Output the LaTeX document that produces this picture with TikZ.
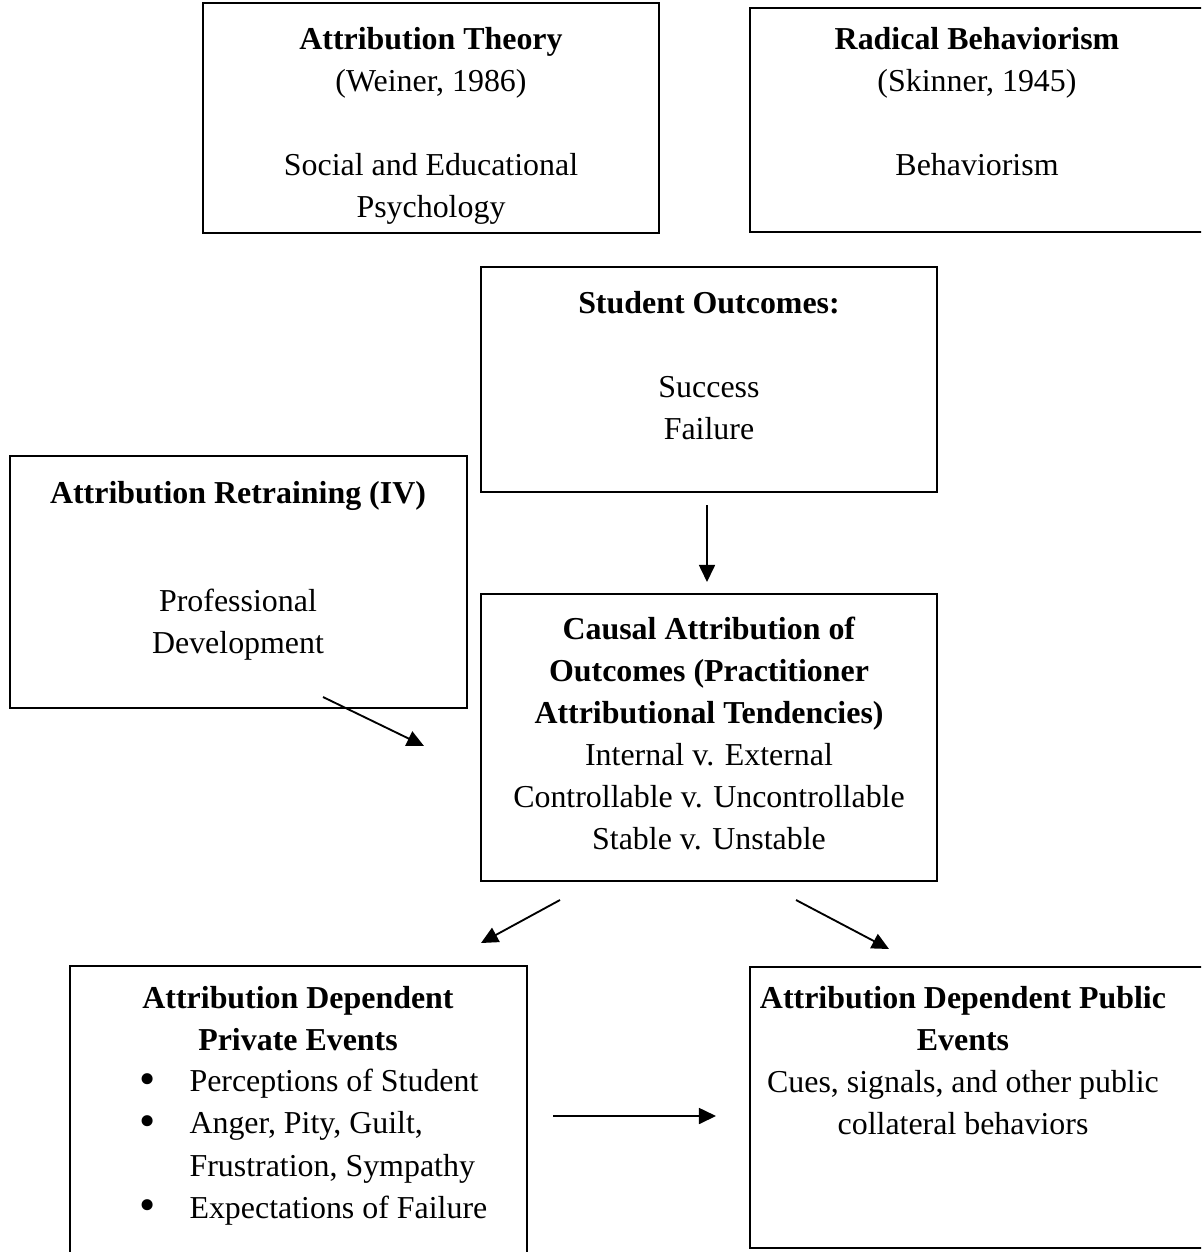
\documentclass[tikz,border=0pt]{standalone}
\usepackage{fontspec}
\usepackage{graphicx}
\setmainfont{Liberation Serif}
\usetikzlibrary{positioning, arrows.meta, fit}
\newcommand{\bigdot}{\raisebox{-0.15ex}{\scalebox{1.45}{•}}}
\tikzset{
  box/.style={draw, line width=0.75pt, inner sep=0pt},
  txt/.style={align=center, inner sep=0pt, anchor=north, font=\fontsize{12}{15.8}\selectfont},
  link/.style={line width=0.7pt, -{Triangle[length=6.4pt,width=6pt]}},
}

\begin{document}
\begin{tikzpicture}[x=0.376pt, y=-0.376pt]
  \useasboundingbox (0,0) rectangle (1201,1252);
  \clip (0,0) rectangle (1201,1252);
  % boxes
  \node[box, fit={(203,3) (659,233)}] (theory) {};
  \node[box, fit={(750,8) (1240,232)}] (radical) {};
  \node[box, fit={(481,267) (937,492)}] (outcomes) {};
  \node[box, fit={(10,456) (467,708)}] (retrain) {};
  \node[box, fit={(481,594) (937,881)}] (causal) {};
  \node[box, fit={(70,966) (527,1300)}] (private) {};
  \node[box, fit={(750,967) (1240,1248)}] (public) {};
  % texts
  \node[txt] (theoryT) at (431,27) {\textbf{Attribution Theory}\\ (Weiner, 1986)\\[15.8pt] Social and Educational\\ Psychology};
  \node[txt] (radicalT) at (977,27) {\textbf{Radical Behaviorism}\\ (Skinner, 1945)\\[15.8pt] Behaviorism};
  \node[txt] (outcomesT) at (709,291) {\textbf{Student Outcomes:}\\[15.8pt] Success\\ Failure};
  \node[txt] (retrainT) at (238,481) {\textbf{Attribution Retraining (IV)}\\[24.8pt] Professional\\ Development};
  \node[txt] (causalT) at (709,616) {\textbf{Causal Attribution of}\\ \textbf{Outcomes (Practitioner}\\ \textbf{Attributional Tendencies)}\\ Internal v. External\\ Controllable v. Uncontrollable\\ Stable v. Unstable};
  \node[txt] (privateT) at (298,986) {\textbf{Attribution Dependent}\\ \textbf{Private Events}};
  \node[txt, anchor=north west] (privateL) at (139,1062) {%
    \begin{tabular}{@{}p{18.8pt}@{}l@{}}
      \bigdot & Perceptions of Student\\
      \bigdot & Anger, Pity, Guilt,\\
              & Frustration, Sympathy\\
      \bigdot & Expectations of Failure
    \end{tabular}};
  \node[txt] (publicT) at (963,986) {\textbf{Attribution Dependent Public}\\ \textbf{Events}\\ Cues, signals, and other public\\ collateral behaviors};
  % arrows
  \coordinate (outA) at (707,505);  \coordinate (outB) at (707,582);
  \coordinate (retA) at (323,697);  \coordinate (retB) at (424,746);
  \coordinate (privA) at (560,900); \coordinate (privB) at (481,943);
  \coordinate (pubA) at (796,900);  \coordinate (pubB) at (889,949);
  \coordinate (evA) at (553,1116);  \coordinate (evB) at (716,1116);
  \draw[link] (outA) -- (outB);
  \draw[link] (retA) -- (retB);
  \draw[link] (privA) -- (privB);
  \draw[link] (pubA) -- (pubB);
  \draw[link] (evA) -- (evB);
\end{tikzpicture}
\end{document}
